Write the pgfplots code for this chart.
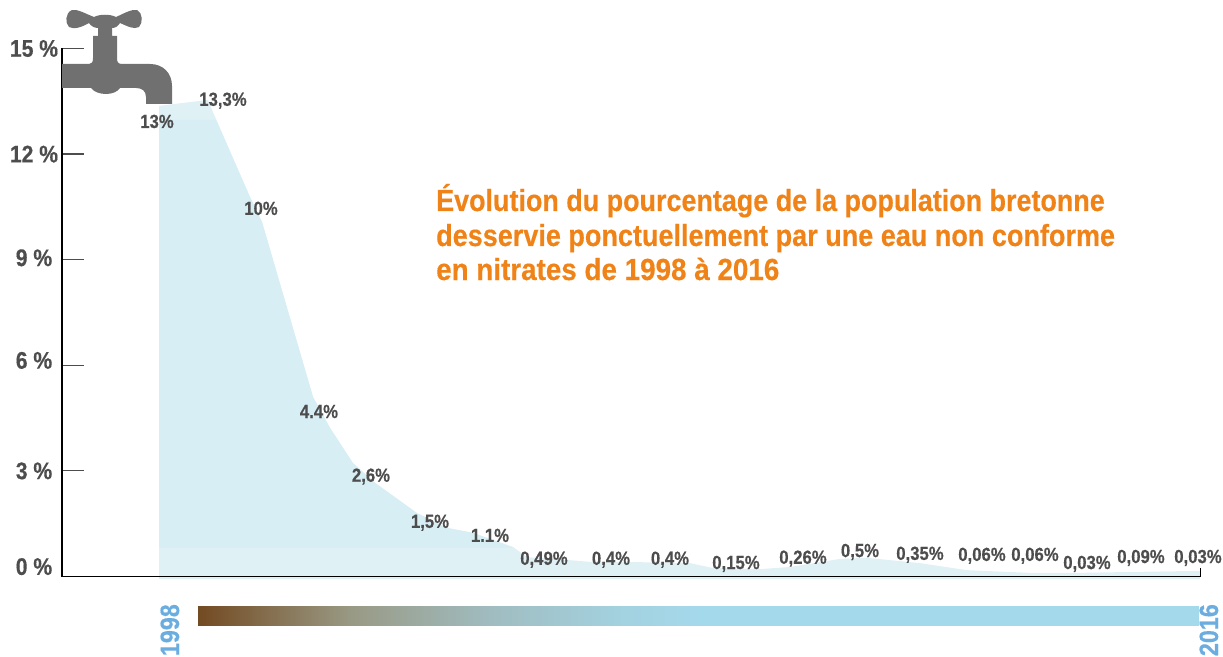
\documentclass[border=0pt]{standalone}
\usepackage{fontspec}
\setmainfont{Liberation Sans}[FakeStretch=0.88,BoldFeatures={FakeBold=0.4}]
\usepackage{pgfplots}
\pgfplotsset{compat=1.18}
\usepackage{pgfplotstable}
\definecolor{areaLight}{HTML}{E0F1F6}
\definecolor{areaDark}{HTML}{D8EEF5}
\definecolor{txt}{HTML}{4D4D4D}
\definecolor{tap}{HTML}{707070}
\definecolor{orangeT}{HTML}{F08318}
\definecolor{yearB}{HTML}{6CADE0}
\definecolor{b0}{HTML}{744C24}
\definecolor{b1}{HTML}{999A85}
\definecolor{bm}{HTML}{A0BCC0}
\definecolor{b2}{HTML}{A3D2E0}
\definecolor{b3}{HTML}{A4D9EC}
\pgfdeclarehorizontalshading{tapbar}{100bp}{color(0bp)=(b0);color(25.2bp)=(b0);color(32.7bp)=(b1);color(39.6bp)=(bm);color(46.2bp)=(b2);color(50.4bp)=(b3);color(100bp)=(b3)}
\pgfplotstableread{
x y
159 13.37
208 13.54
210 13.39
250 10.78
262 10.07
313 5.10
330 4.22
353 3.22
375 2.66
417 1.80
447 1.38
473 1.24
513 0.84
527 0.55
567 0.47
593 0.41
633 0.41
690 0.38
713 0.24
760 0.21
790 0.27
840 0.50
867 0.53
920 0.38
967 0.18
1033 0.10
1073 0.10
1133 0.13
1200 0.16
1200 -0.07
159 -0.07
}\silhouette
\pgfplotstableread{
x y
159 12.97
216 12.97
250 10.78
262 10.07
313 5.10
330 4.22
353 3.22
375 2.66
417 1.80
447 1.38
473 1.24
514 0.81
159 0.81
}\band
\pgfplotstableread{
x y lab
157 12.91 13\%
223 13.54 13,3\%
261 10.44 10\%
319 4.67 4.4\%
371 2.86 2,6\%
430 1.55 1,5\%
490 1.15 1.1\%
544 0.50 0,49\%
611 0.50 0,4\%
670 0.50 0,4\%
736 0.38 0,15\%
803 0.53 0,26\%
860 0.72 0,5\%
920 0.64 0,35\%
982 0.61 0,06\%
1035 0.61 0,06\%
1087 0.38 0,03\%
1141 0.55 0,09\%
1198 0.55 0,03\%
}\labels
\begin{document}
\begin{tikzpicture}
\useasboundingbox (0,0) rectangle (1223bp,657bp);
\begin{axis}[
  at={(62bp,80.5bp)}, anchor=south west,
  scale only axis, width=1138bp, height=528bp,
  xmin=62, xmax=1200, ymin=0, ymax=15,
  axis x line=bottom, axis y line=left,
  axis line style={-, black, line width=1.3bp},
  xtick=\empty,
  ytick={0,3,6,9,12,15},
  yticklabels={\raisebox{20bp}{0 \%},\raisebox{-3bp}{3 \%},\raisebox{10bp}{6 \%},\raisebox{4bp}{9 \%},12 \%,\raisebox{-2bp}{15 \%}},
  tick style={draw=txt, line width=1.2bp},
  major tick length=22bp,
  tick align=inside,
  yticklabel style={font=\fontsize{24bp}{26bp}\selectfont\bfseries, text=txt, anchor=center, xshift=-28bp},
  clip=false,
  axis on top,
]
\addplot[draw=none, fill=areaLight] table[x=x,y=y] {\silhouette} -- cycle;
\addplot[draw=none, fill=areaDark] table[x=x,y=y] {\band} -- cycle;
\addplot[only marks, mark=none, point meta=explicit symbolic,
  nodes near coords,
  nodes near coords style={anchor=center, yshift=-2.5bp, font=\fontsize{19bp}{21bp}\selectfont\bfseries, text=txt, text height=1.5ex, text depth=0.2ex, inner sep=0pt},
] table[x=x,y=y,meta=lab] {\labels};
\addplot[black, line width=1bp] coordinates {(1200,0) (1200,0.25)};
\end{axis}
\begin{scope}[x=1bp,yshift=657bp,y=-1bp]
% tap
\fill[tap] (62,64) -- (89,64) .. controls (92,64) and (93,62) .. (93,58) -- (93,36) -- (98,36) -- (98,28)
 .. controls (94,28) and (91,26) .. (89,23) .. controls (82,27) and (74,30) .. (69,27)
 .. controls (65,23) and (65,13) .. (72,10) .. controls (78,9) and (86,14) .. (94,17)
 .. controls (100,14) and (110,14) .. (116,17) .. controls (123,14) and (131,9) .. (137,10)
 .. controls (143,13) and (143,23) .. (139,27) .. controls (134,30) and (127,26) .. (120,23)
 .. controls (118,26) and (116,28) .. (112,28) -- (112,36) -- (117,36) -- (117,58)
 .. controls (117,62) and (118,64) .. (122,64) -- (150,64) .. controls (163,64) and (172,73) .. (172,86)
 -- (172,104) -- (146,104) -- (146,97) .. controls (146,91) and (142,88) .. (136,88) -- (120,88)
 .. controls (115,96) and (97,96) .. (91,88) -- (62,88) -- cycle;
% gradient bar
\shade[shading=tapbar] (198,607) rectangle (1199,626);
\end{scope}
\begin{scope}[x=1bp,y=1bp]
\node[anchor=base west, text=orangeT, inner sep=0pt, font=\fontsize{30.5bp}{32bp}\selectfont\bfseries] at (436,446) {\scalebox{1.003}[1]{Évolution du pourcentage de la population bretonne}};
\node[anchor=base west, text=orangeT, inner sep=0pt, font=\fontsize{30.5bp}{32bp}\selectfont\bfseries] at (436,411) {\scalebox{1.007}[1]{desservie ponctuellement par une eau non conforme}};
\node[anchor=base west, text=orangeT, inner sep=0pt, font=\fontsize{30.5bp}{32bp}\selectfont\bfseries] at (436,377) {\scalebox{1.036}[1]{en nitrates de 1998 à 2016}};
\node[rotate=90, anchor=base east, text=yearB, inner sep=0pt, font=\fontsize{26.5bp}{29bp}\selectfont\bfseries] at (179,53) {1998};
\node[rotate=90, anchor=base east, text=yearB, inner sep=0pt, font=\fontsize{26.5bp}{29bp}\selectfont\bfseries] at (1218,53) {2016};
\end{scope}
\end{tikzpicture}
\end{document}
